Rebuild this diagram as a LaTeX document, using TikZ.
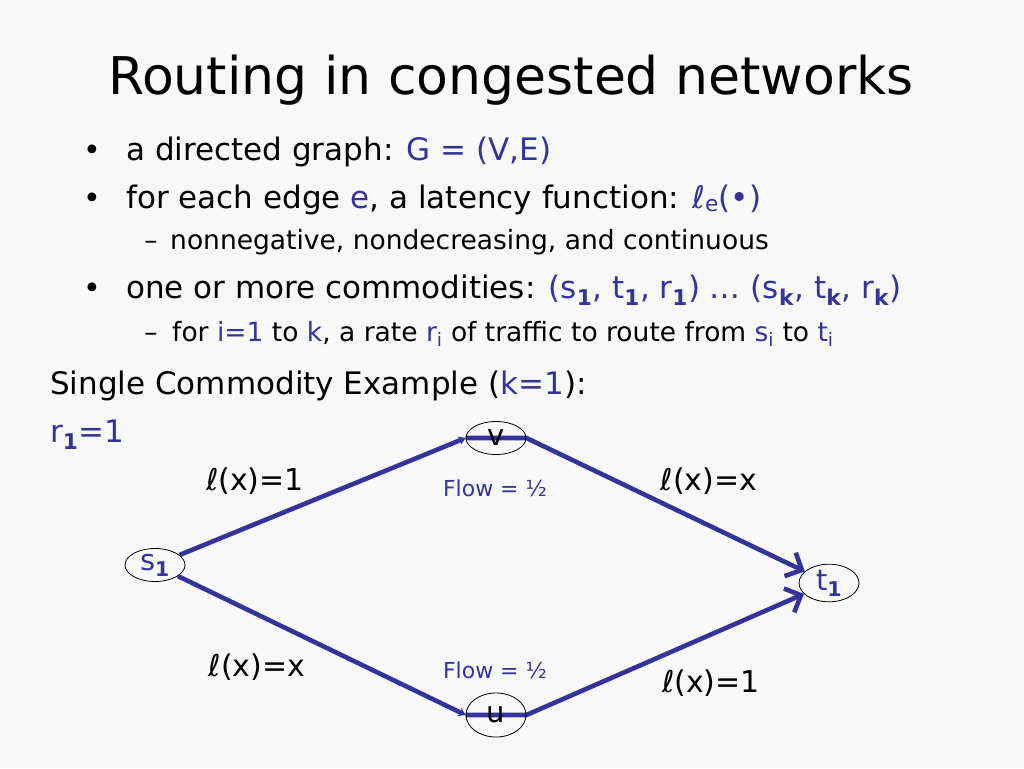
\documentclass[tikz,border=0pt]{standalone}
\usepackage{fontspec}
\setmainfont{DejaVu Sans}
\usetikzlibrary{arrows.meta,shapes.geometric}
\definecolor{pblue}{HTML}{333399}
\definecolor{bgcol}{HTML}{F8F8F8}
\pgfdeclarelayer{back}
\pgfdeclarelayer{background}
\pgfsetlayers{back,background,main}
\newcommand{\bsub}[1]{\textsubscript{\textbf{#1}}}
\begin{document}
\begin{tikzpicture}[x=1pt,y=-1pt,
  lvl1/.style={inner sep=0pt,anchor=base west,font=\fontsize{31}{34}\selectfont},
  lvl2/.style={inner sep=0pt,anchor=base west,font=\fontsize{26.5}{29}\selectfont},
  bul/.style={inner sep=0pt,anchor=base,font=\fontsize{30}{34}\selectfont},
  vert/.style={draw=black,line width=0.8pt,ellipse,minimum width=60pt,minimum height=33pt,inner sep=0pt,font=\fontsize{29}{30}\selectfont},
  lab/.style={inner sep=0pt,font=\fontsize{30}{34}\selectfont},
  flow/.style={inner sep=0pt,text=pblue,font=\fontsize{22}{26}\selectfont},
  edge/.style={draw=pblue,line width=4.6pt,line join=round},
  small/.style={-{Stealth[length=7pt,width=9pt]}},
  big/.style={-{Straight Barb[length=13pt,width=26pt]}}]
\begin{pgfonlayer}{back}
\fill[bgcol] (0,0) rectangle (1024,768);
\end{pgfonlayer}
\useasboundingbox (0,0) rectangle (1024,768);
% title
\node[inner sep=0pt,anchor=base,font=\fontsize{52}{56}\selectfont] (title) at (511,94) {Routing in congested networks};
% bullets
\node[bul] (b1) at (92,160) {•};
\node[lvl1] (t1l) at (126,160) {a directed graph: {\color{pblue}G = (V,E)}};
\node[bul] (b2) at (92,208) {•};
\node[lvl1] (t2l) at (126,208) {for each edge {\color{pblue}e}, a latency function: {\color{pblue}ℓ\textsubscript{e}(•)}};
\node[lvl2,anchor=base] (d1) at (151,249) {–};
\node[lvl2] (t3l) at (170,249) {nonnegative, nondecreasing, and continuous};
\node[bul] (b3) at (92,298) {•};
\node[lvl1] (t4l) at (126,298) {one or more commodities: {\color{pblue}(s\bsub{1}, t\bsub{1}, r\bsub{1}) … (s\bsub{k}, t\bsub{k}, r\bsub{k})}};
\node[lvl2,anchor=base] (d2) at (151,341) {–};
\node[lvl2] (t5l) at (172,341) {for {\color{pblue}i=1} to {\color{pblue}k}, a rate {\color{pblue}r\textsubscript{i}} of traffic to route from {\color{pblue}s\textsubscript{i}} to {\color{pblue}t\textsubscript{i}}};
\node[lvl1] (ex) at (50,394) {Single Commodity Example ({\color{pblue}k=1}):};
\node[lvl1,text=pblue] (r1) at (50,442) {r\bsub{1}=1};
% graph
\node[vert,text=pblue] (s1) at (155,565) {s\bsub{1}};
\node[vert] (v) at (496,438) {v};
\node[vert,minimum height=44pt] (u) at (496,715) {u};
\node[vert,text=pblue] (t1) at (829,583) {t\bsub{1}};
\begin{pgfonlayer}{background}
\draw[edge,small] (s1) -- (v.west);
\draw[edge,big] (v.west) -- (v.east) -- (t1);
\draw[edge,small] (s1) -- (u.west);
\draw[edge,big] (u.west) -- (u.east) -- (t1);
\end{pgfonlayer}
% labels
\node[lab] (l1) at (255,481) {ℓ(x)=1};
\node[flow] (f1) at (495,488) {Flow = ½};
\node[lab] (l2) at (709,481) {ℓ(x)=x};
\node[lab] (l3) at (257,667) {ℓ(x)=x};
\node[flow] (f2) at (495,670) {Flow = ½};
\node[lab] (l4) at (711,683) {ℓ(x)=1};
\end{tikzpicture}
\end{document}
